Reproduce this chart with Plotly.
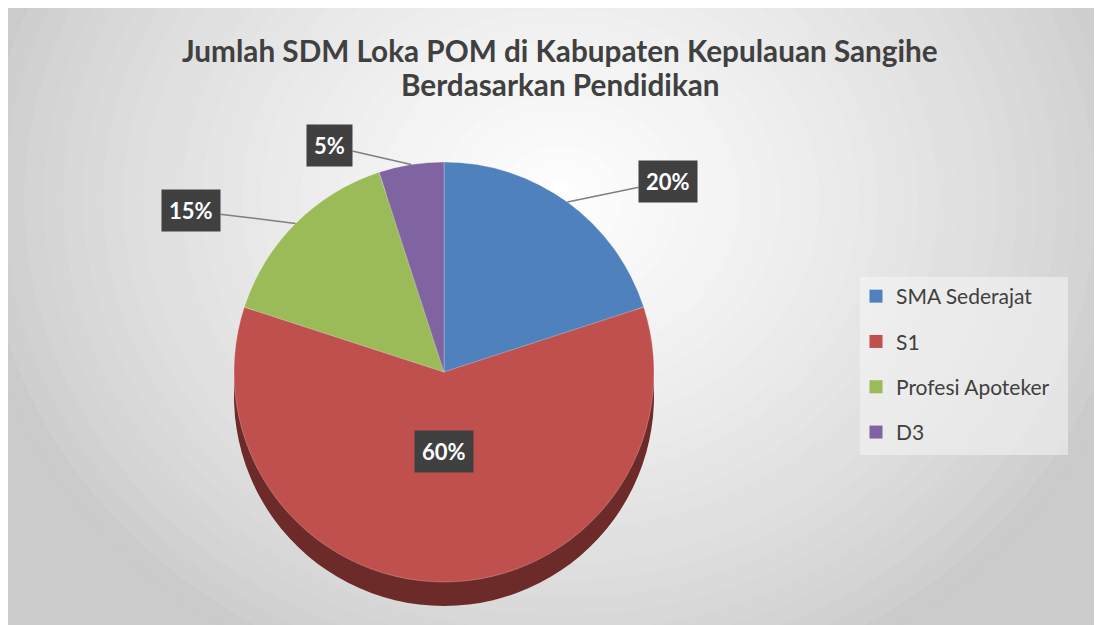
import math
import plotly.graph_objects as go

# ---- data ----
labels = ["SMA Sederajat", "S1", "Profesi Apoteker", "D3"]
values = [20, 60, 15, 5]
colors = ["#4F81BD", "#C0504D", "#9BBB59", "#8064A2"]
side_colors = ["#2f4e74", "#6c2a28", "#5c7034", "#4b3a60"]
title_lines = ["Jumlah SDM Loka POM di Kabupaten Kepulauan Sangihe", "Berdasarkan Pendidikan"]

# ---- layout constants (positions given in screen px; page body has an 8px margin) ----
W, H = 1102, 625
OX, OY = 8, 8
FONT = "Lato, Open Sans, sans-serif"


def fx(X):
    return (X - OX) / W


def fy(Y):
    return 1 - (Y - OY) / H


CX, CY, R, DEPTH = 444, 372, 210, 24
label_offsets = [(101, -21), None, (-105, -13), (-82, -19)]

fig = go.Figure()


def pie_domain(cx, cy, r):
    return dict(x=[fx(cx - r), fx(cx + r)], y=[fy(cy + r), fy(cy - r)])


# side (depth) of the 3-D pie
fig.add_trace(go.Pie(
    labels=labels, values=values, sort=False, direction="clockwise", rotation=0,
    marker=dict(colors=side_colors, line=dict(width=0)),
    textinfo="none", hoverinfo="skip", showlegend=False,
    domain=pie_domain(CX, CY + DEPTH, R),
))
# top face
fig.add_trace(go.Pie(
    labels=labels, values=values, sort=False, direction="clockwise", rotation=0,
    marker=dict(colors=colors, line=dict(color="rgba(255,255,255,0.5)", width=0.5)),
    textinfo="none", hoverinfo="label+percent", showlegend=False,
    domain=pie_domain(CX, CY, R),
))

# legend entries (one group per category so they can be spaced like the original)
for lab, col in zip(labels, colors):
    fig.add_trace(go.Scatter(
        x=[None], y=[None], mode="markers", name=lab, legendgroup=lab,
        marker=dict(symbol="square", size=13, color=col),
        showlegend=True, hoverinfo="skip",
    ))

# background: radial gradient via concentric ellipses
shapes = [dict(type="rect", xref="paper", yref="paper", x0=-0.1, x1=1.1, y0=-0.1, y1=1.1,
               fillcolor="#cbcbcb", line=dict(width=0), layer="below")]
gx, gy = fx(560), fy(200)
steps = 30
for i in range(steps):
    t = i / (steps - 1)
    rx = 0.52 * (1 - t) + 0.02
    ry = 0.80 * (1 - t) + 0.03
    c = int(203 + (254 - 203) * (t ** 0.75))
    shapes.append(dict(type="circle", xref="paper", yref="paper",
                       x0=gx - rx, x1=gx + rx, y0=gy - ry, y1=gy + ry,
                       fillcolor=f"rgb({c},{c},{c})", line=dict(width=0), layer="below"))

# legend panel
shapes.append(dict(type="rect", xref="paper", yref="paper", x0=fx(860), x1=fx(1068),
                   y0=fy(455), y1=fy(277),
                   fillcolor="rgba(246,246,246,0.55)", line=dict(width=0), layer="below"))

# data labels
annotations = []
total = sum(values)
cum = 0
for i, v in enumerate(values):
    mid = (cum + v / 2) / total * 2 * math.pi
    cum += v
    txt = f"{round(v / total * 100)}%"
    common = dict(text=f"<b>{txt}</b>", font=dict(family=FONT, size=22, color="white"),
                  bgcolor="#404040", borderpad=7, xref="paper", yref="paper")
    if label_offsets[i] is None:
        px = CX + 0.38 * R * math.sin(mid)
        py = CY - 0.38 * R * math.cos(mid)
        annotations.append(dict(x=fx(px), y=fy(py), showarrow=False,
                                xanchor="center", yanchor="middle", **common))
    else:
        px = CX + R * math.sin(mid)
        py = CY - R * math.cos(mid)
        ax, ay = label_offsets[i]
        annotations.append(dict(x=fx(px), y=fy(py), showarrow=True, arrowhead=0,
                                arrowcolor="#7f7f7f", arrowwidth=1.5, ax=ax, ay=ay, **common))

# title (two lines, placed separately to match line spacing)
for line, yc in zip(title_lines, [50, 85]):
    annotations.append(dict(
        text=f"<b>{line}</b>", xref="paper", yref="paper",
        x=fx(560), y=fy(yc), xanchor="center", yanchor="middle", showarrow=False,
        font=dict(family=FONT, size=29.7, color="#404040"), align="center",
    ))

fig.update_layout(
    width=W, height=H,
    margin=dict(l=0, r=0, t=0, b=0),
    paper_bgcolor="white",
    plot_bgcolor="rgba(0,0,0,0)",
    xaxis=dict(visible=False, domain=[0.99, 1]),
    yaxis=dict(visible=False, domain=[0.99, 1]),
    legend=dict(x=fx(856), y=fy(276), xanchor="left", yanchor="top",
                bgcolor="rgba(0,0,0,0)", borderwidth=0, tracegroupgap=15,
                font=dict(family=FONT, size=21, color="#404040"),
                traceorder="grouped", itemclick=False, itemdoubleclick=False),
    shapes=shapes,
    annotations=annotations,
)

fig.write_html("out.html")
